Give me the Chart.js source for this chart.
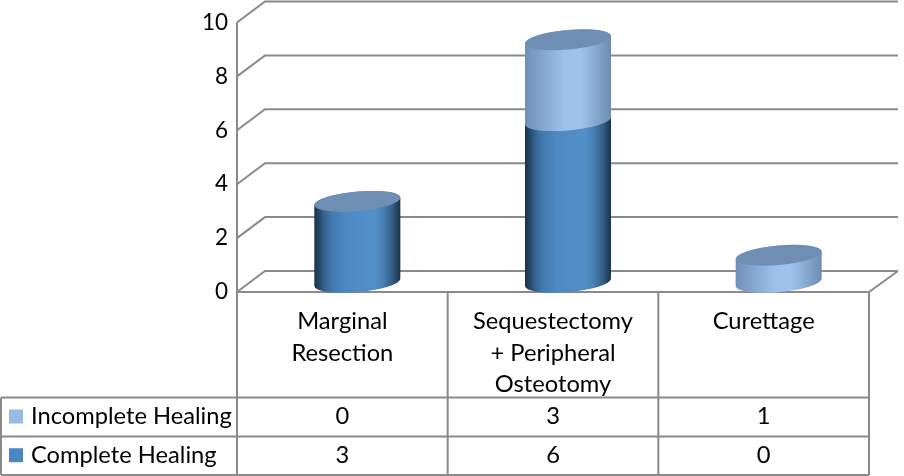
<!DOCTYPE html>
<html>
<head>
<meta charset="utf-8">
<style>html,body{margin:0;padding:0;background:#fff}canvas{display:block}</style>
<script src="https://cdn.jsdelivr.net/npm/chart.js@4"></script>
</head>
<body>
<canvas id="c" width="904" height="476"></canvas>
<script>
const categories = [["Marginal","Resection"],["Sequestectomy","+ Peripheral","Osteotomy"],["Curettage"]];
const complete = [3,6,0];
const incomplete = [0,3,1];
const yTicks = [0,2,4,6,8,10];
const FONT = 'Lato, Carlito, "Open Sans", sans-serif';
const LINE = '#8a8a8a';
const ramps = {
  complete: [[0,'#1b3044'],[0.05,'#234462'],[0.12,'#356390'],[0.2,'#4178ac'],[0.35,'#4d88c2'],[0.7,'#5290c8'],[0.8,'#477fb2'],[0.9,'#34608a'],[0.97,'#213f5a'],[1,'#1a3147']],
  incomplete: [[0,'#6f8fb5'],[0.15,'#7ea0c8'],[0.45,'#9cc0ea'],[0.65,'#9fc2eb'],[0.85,'#82a4cb'],[1,'#6d8cae']]
};
const CAP = '#6f8eb3';
const tilt = -5.2*Math.PI/180, minor = 9.8, DX = 15, DY = -9.7, BDX = 28, BDY = -21;

function cylinder(ctx, el, ramp){
  const cx = el.x + DX, top = el.y + DY, base = el.base + DY, a = el.width/2;
  const tr = Math.atan(-(minor/a)*Math.tan(tilt));
  const g = ctx.createLinearGradient(cx-a,0,cx+a,0);
  ramp.forEach(s=>g.addColorStop(s[0],s[1]));
  ctx.beginPath();
  ctx.ellipse(cx,base,a,minor,tilt,tr,tr+Math.PI,false);
  ctx.ellipse(cx,top,a,minor,tilt,tr+Math.PI,tr+2*Math.PI,false);
  ctx.closePath();
  ctx.fillStyle = g; ctx.fill();
  ctx.beginPath();
  ctx.ellipse(cx,top,a,minor,tilt,0,2*Math.PI);
  ctx.fillStyle = CAP; ctx.fill();
}
const scene = {
  id:'scene',
  beforeDatasetsDraw(chart){
    const {ctx,chartArea:A,scales:{y}} = chart;
    ctx.save();
    ctx.strokeStyle = LINE; ctx.lineWidth = 2;
    ctx.beginPath();
    y.ticks.forEach(t=>{
      const py = y.getPixelForValue(t.value);
      ctx.moveTo(A.left,py); ctx.lineTo(A.left+BDX,py+BDY); ctx.lineTo(A.right+BDX+1,py+BDY);
    });
    const b = y.getPixelForValue(0);
    ctx.moveTo(A.left,y.getPixelForValue(10)); ctx.lineTo(A.left,b);
    ctx.moveTo(A.left,b); ctx.lineTo(A.right,b); ctx.lineTo(A.right+BDX+1,b+BDY);
    ctx.stroke();
    ctx.restore();
  },
  beforeDatasetDraw(){ return false; },
  afterDatasetsDraw(chart){
    const ctx = chart.ctx;
    ctx.save();
    chart.data.datasets.forEach((ds,i)=>{
      chart.getDatasetMeta(i).data.forEach((el,j)=>{
        if(ds.data[j] > 0) cylinder(ctx, el, ds.ramp);
      });
    });
    ctx.restore();
  },
  afterDraw(chart){
    const {ctx,chartArea:A,scales:{x,y}} = chart;
    const rowTops = [397.5,436.5,475], leftX = 1, n = categories.length;
    const step = (A.right-A.left)/n, b = y.getPixelForValue(0);
    ctx.save();
    ctx.strokeStyle = LINE; ctx.lineWidth = 2;
    ctx.beginPath();
    for(let i=0;i<=n;i++){ const vx = A.left+step*i; ctx.moveTo(vx,b); ctx.lineTo(vx,rowTops[2]); }
    rowTops.forEach(ry=>{ ctx.moveTo(leftX,ry); ctx.lineTo(A.right,ry); });
    ctx.moveTo(leftX,rowTops[0]); ctx.lineTo(leftX,rowTops[2]);
    ctx.stroke();
    const rows = [...chart.data.datasets].reverse();
    ctx.font = '23.7px '+FONT; ctx.fillStyle = '#000'; ctx.textBaseline = 'middle';
    rows.forEach((ds,r)=>{
      const cy = (rowTops[r]+rowTops[r+1])/2 - 0.5;
      ctx.fillStyle = ds.backgroundColor;
      ctx.fillRect(9,cy-7,14,14);
      ctx.fillStyle = '#000';
      ctx.textAlign = 'left';
      ctx.fillText(ds.label,31,cy);
      ctx.textAlign = 'center';
      ds.data.forEach((v,j)=>ctx.fillText(String(v),x.getPixelForValue(j),cy));
    });
    ctx.restore();
  }
};
new Chart(document.getElementById('c'),{
  type:'bar',
  data:{labels:categories,datasets:[
    {label:'Complete Healing',data:complete,backgroundColor:'#4a86c0',ramp:ramps.complete,stack:'s'},
    {label:'Incomplete Healing',data:incomplete,backgroundColor:'#97bae2',ramp:ramps.incomplete,stack:'s'}
  ]},
  plugins:[scene],
  options:{
    responsive:false,animation:false,devicePixelRatio:1,
    layout:{padding:{top:22,right:35,left:0,bottom:0}},
    barPercentage:0.41,categoryPercentage:1,
    plugins:{legend:{display:false},tooltip:{enabled:false},title:{display:false}},
    scales:{
      x:{stacked:true,grid:{display:false},border:{display:false},
        afterFit(s){s.height=184;},
        ticks:{autoSkip:false,maxRotation:0,minRotation:0,padding:6,color:'#000',font:{family:FONT,size:23.7,lineHeight:1.33}}},
      y:{stacked:true,min:0,max:10,grid:{display:false,drawTicks:false},border:{display:false},
        afterFit(s){s.width=237;},
        afterBuildTicks(s){s.ticks=yTicks.map(v=>({value:v}));},
        ticks:{padding:9,color:'#000',font:{family:FONT,size:22.5}}}
    }
  }
});
</script>
</body>
</html>
